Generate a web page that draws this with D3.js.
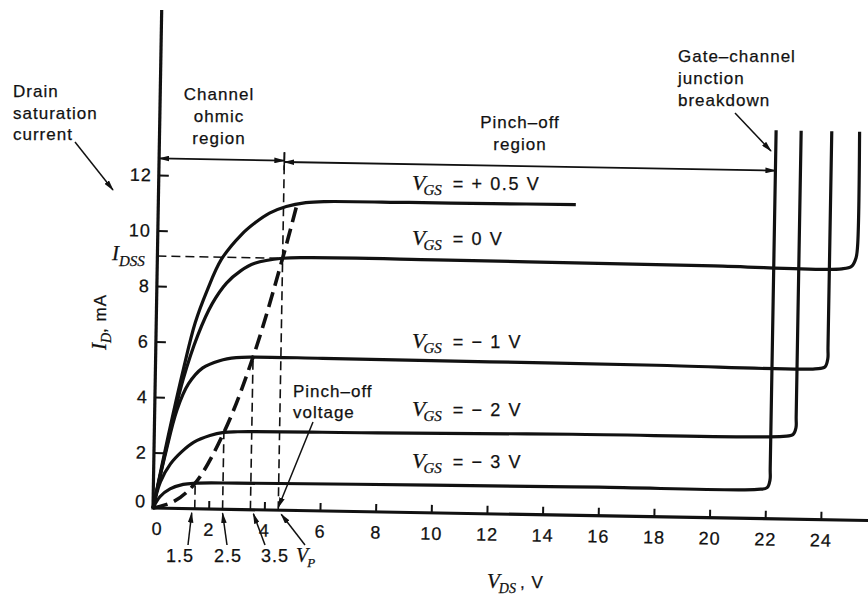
<!DOCTYPE html>
<html>
<head>
<meta charset="utf-8">
<script src="https://cdn.jsdelivr.net/npm/d3@7"></script>
<style>
  body { margin: 0; background: #fff; }
  text { font-family: "Liberation Sans", Arial, sans-serif; font-size: 17px; letter-spacing: 1px; fill: #111; stroke: #111; stroke-width: 0.25px; }
  .it { font-family: "Liberation Serif", "Times New Roman", serif; font-style: italic; letter-spacing: 0; }
</style>
</head>
<body>
<div id="chart"></div>
<script>
// axis ticks
const xTicks = [0, 2, 4, 6, 8, 10, 12, 14, 16, 18, 20, 22, 24];
const yTicks = [0, 2, 4, 6, 8, 10, 12];

// drain curves [V_DS, I_D]
const vgsNames = ["+ 0.5", "0", "\u2212 1", "\u2212 2", "\u2212 3"];
const vgsPos05 = [[0,0],[0.5,2.6],[1,5.0],[1.4,6.7],[1.8,7.85],[2.3,9.0],[3,9.9],[3.5,10.35],[4,10.7],[4.6,10.95],[5.3,11.1],[6,11.15],[9,11.17],[12,11.18],[15,11.2]];
const vgs0 = [[0,0],[0.5,2.45],[1,4.65],[1.5,6.25],[2,7.4],[2.5,8.15],[3,8.6],[3.5,8.88],[4.5,9.08],[5.5,9.12],[10,9.12],[15,9.1],[20,9.08],[24.6,9.05],[24.95,9.15],[25.1,9.45],[25.15,9.9],[25.15,14.0]];
const vgsM1 = [[0,0],[0.4,1.9],[0.8,3.55],[1.2,4.5],[1.7,5.08],[2.3,5.35],[2.9,5.47],[3.5,5.5],[6,5.5],[12,5.48],[18,5.46],[23.7,5.43],[24.05,5.5],[24.15,5.8],[24.15,6.2],[24.15,14.0]];
const vgsM2 = [[0,0],[0.25,0.95],[0.6,1.6],[1.0,2.05],[1.43,2.4],[2.0,2.65],[2.5,2.77],[3,2.8],[8,2.85],[15,2.92],[22.6,2.98],[22.95,3.05],[23.05,3.3],[23.05,3.7],[23.05,14.0]];
const vgsM3 = [[0,0],[0.25,0.42],[0.6,0.7],[1.07,0.87],[1.5,0.92],[3,0.95],[10,1.0],[16,1.03],[21.7,1.05],[22.05,1.12],[22.15,1.4],[22.15,1.8],[22.15,14.0]];
const curves = [vgsPos05, vgs0, vgsM1, vgsM2, vgsM3];

// pinch-off locus and markers
const pinchLocus = [[0,0],[0.75,0.25],[1.5,0.92],[2.5,2.77],[3.5,5.5],[4.5,9.08],[5.0,11.1]];
const pinchV = [1.5, 2.5, 3.5, 4.5];
const pinchTop = [0.92, 2.77, 5.5, 12.9];
const pinchNames = ["1.5", "2.5", "3.5", "VP"];
const idss = 9.08;
const regionFrom = [0, 4.5];
const regionTo = [4.5, 22.15];
const regionI = [12.6, 12.55];

const W = 868, H = 599;
const ox = 153, oy = 508, tilt = 1; // scanned page is a little rotated

const svg = d3.select("#chart").append("svg")
  .attr("width", W).attr("height", H)
  .attr("viewBox", `0 0 ${W} ${H}`);

svg.append("defs").append("marker")
  .attr("id", "arr")
  .attr("viewBox", "0 -3 11 6")
  .attr("refX", 10).attr("refY", 0)
  .attr("markerUnits", "userSpaceOnUse")
  .attr("markerWidth", 11).attr("markerHeight", 6)
  .attr("orient", "auto-start-reverse")
  .append("path").attr("d", "M0,-2.8L11,0L0,2.8Z").attr("fill", "#111");

const x = d3.scaleLinear().domain([0, 24]).range([0, 24 * 27.83]);
const y = d3.scaleLinear().domain([0, 12]).range([0, -333]);

const rad = tilt * Math.PI / 180;
function toScreen(v, i) {
  const lx = x(v), ly = y(i);
  return [ox + lx * Math.cos(rad) - ly * Math.sin(rad), oy + lx * Math.sin(rad) + ly * Math.cos(rad)];
}

const g = svg.append("g").attr("transform", `translate(${ox},${oy}) rotate(${tilt})`);

// axes
const xAxis = g.append("g")
  .call(d3.axisBottom(x).tickValues(xTicks).tickSizeInner(-8).tickSizeOuter(0).tickPadding(14));
const yAxis = g.append("g")
  .call(d3.axisLeft(y).tickValues(yTicks).tickSizeInner(-10).tickSizeOuter(0).tickPadding(7));
[xAxis, yAxis].forEach(a => {
  a.select(".domain").remove();
  a.selectAll(".tick line").attr("stroke", "#111").attr("stroke-width", 2);
  a.selectAll(".tick text").style("font-size", "18px").attr("fill", "#111");
});
xAxis.selectAll(".tick").filter(d => d === 0).select("line").remove();
xAxis.selectAll(".tick").filter(d => d === 0).select("text").attr("dx", 4);
yAxis.selectAll(".tick").filter(d => d === 0).select("line").remove();
yAxis.selectAll(".tick").filter(d => d === 0).select("text").attr("dy", "-0.05em");

g.append("line").attr("x1", x(0)).attr("x2", x(25.8)).attr("y1", y(0)).attr("y2", y(0))
  .attr("stroke", "#111").attr("stroke-width", 3.2);
g.append("line").attr("x1", x(0)).attr("x2", x(0)).attr("y1", y(0) + 1.5).attr("y2", y(17.95))
  .attr("stroke", "#111").attr("stroke-width", 3.2);

// dashed guides
g.append("line").attr("x1", x(0)).attr("x2", x(4.5)).attr("y1", y(idss)).attr("y2", y(idss))
  .attr("stroke", "#111").attr("stroke-width", 1.6).attr("stroke-dasharray", "9,5");
g.selectAll(".drop").data(pinchV).enter().append("line")
  .attr("x1", d => x(d)).attr("x2", d => x(d))
  .attr("y1", y(0)).attr("y2", (d, i) => y(pinchTop[i]))
  .attr("stroke", "#111").attr("stroke-width", 1.6).attr("stroke-dasharray", "9,5");

const line = d3.line().x(d => x(d[0])).y(d => y(d[1])).curve(d3.curveCatmullRom.alpha(0.5));

g.append("path").datum(pinchLocus).attr("d", line)
  .attr("fill", "none").attr("stroke", "#111").attr("stroke-width", 3.6)
  .attr("stroke-dasharray", "15,7");

// drain curves
g.selectAll(".curve").data(curves).enter().append("path")
  .attr("d", line)
  .attr("fill", "none").attr("stroke", "#111").attr("stroke-width", 3.2)
  .attr("stroke-linejoin", "round").attr("stroke-linecap", "butt");

// region arrows
g.selectAll(".region").data(regionFrom).enter().append("line")
  .attr("x1", d => x(d)).attr("x2", (d, i) => x(regionTo[i]))
  .attr("y1", (d, i) => y(regionI[i])).attr("y2", (d, i) => y(regionI[i]))
  .attr("stroke", "#111").attr("stroke-width", 1.8)
  .attr("marker-start", "url(#arr)").attr("marker-end", "url(#arr)");
g.append("line").attr("x1", x(4.5)).attr("x2", x(4.5)).attr("y1", y(12.25)).attr("y2", y(12.9))
  .attr("stroke", "#111").attr("stroke-width", 1.6);

// annotation text
function lines(arr, px, py0, step, anchor) {
  svg.append("g").selectAll("text").data(arr).enter().append("text")
    .attr("x", px).attr("y", (d, i) => py0 + i * step)
    .attr("text-anchor", anchor).text(d => d);
}
lines(["Drain", "saturation", "current"], 13, 97, 21.5, "start");
lines(["Channel", "ohmic", "region"], 219, 100, 22, "middle");
lines(["Pinch\u2013off", "region"], 520, 128, 22, "middle");
lines(["Gate\u2013channel", "junction", "breakdown"], 678, 62, 22, "start");
lines(["Pinch\u2013off", "voltage"], 293, 397, 21, "start");

function arrow(p1, p2) {
  svg.append("line").attr("x1", p1[0]).attr("y1", p1[1]).attr("x2", p2[0]).attr("y2", p2[1])
    .attr("stroke", "#111").attr("stroke-width", 1.5).attr("marker-end", "url(#arr)");
}
arrow([75, 142], [113, 190]);
arrow([735, 113], [771, 151]);
arrow([313, 422], toScreen(4.5, 0.1));

// I_DSS label
const idssT = svg.append("text").attr("x", 112).attr("y", 260);
idssT.append("tspan").attr("class", "it").style("font-size", "21px").text("I");
idssT.append("tspan").attr("class", "it").style("font-size", "15px").attr("dy", 6).text("DSS");

// V_GS labels
const vgsY = [190, 245, 348, 416, 468];
vgsNames.forEach((n, k) => {
  const t = svg.append("text").attr("x", 412).attr("y", vgsY[k]);
  t.append("tspan").attr("class", "it").style("font-size", "22px").text("V");
  t.append("tspan").attr("class", "it").style("font-size", "15px").attr("dx", -2).attr("dy", 5).text("GS");
  t.append("tspan").attr("dx", 11).attr("dy", -5).style("font-size", "18px").style("letter-spacing", "1.6px").text("= " + n + " V");
});

// pinch-off voltage labels under axis
const subX = [180, 228, 275, 296];
pinchNames.forEach((n, k) => {
  const tip = toScreen(pinchV[k], 0);
  if (n === "VP") {
    const t = svg.append("text").attr("x", subX[k]).attr("y", 562);
    t.append("tspan").attr("class", "it").style("font-size", "20px").text("V");
    t.append("tspan").attr("class", "it").style("font-size", "13px").attr("dx", -1).attr("dy", 5).text("P");
    arrow([305, 545], [tip[0] + 3, tip[1] + 4]);
  } else {
    svg.append("text").attr("x", subX[k]).attr("y", 562).attr("text-anchor", "middle").style("font-size", "18px").text(n);
    arrow([subX[k] + [8, -1, -10][k], 545], [tip[0] - [3, 0, -3][k], tip[1] + 4]);
  }
});

// axis titles
const xt = svg.append("text").attr("x", 487).attr("y", 588);
xt.append("tspan").attr("class", "it").style("font-size", "21px").text("V");
xt.append("tspan").attr("class", "it").style("font-size", "14px").attr("dx", -1).attr("dy", 5).text("DS");
xt.append("tspan").attr("dx", 4).attr("dy", -5).text(", V");

const yt = svg.append("text").attr("transform", "translate(106,322) rotate(-90)").attr("text-anchor", "middle");
yt.append("tspan").attr("class", "it").style("font-size", "21px").text("I");
yt.append("tspan").attr("class", "it").style("font-size", "14px").attr("dy", 5).text("D");
yt.append("tspan").attr("dy", -5).text(", mA");
</script>
</body>
</html>
